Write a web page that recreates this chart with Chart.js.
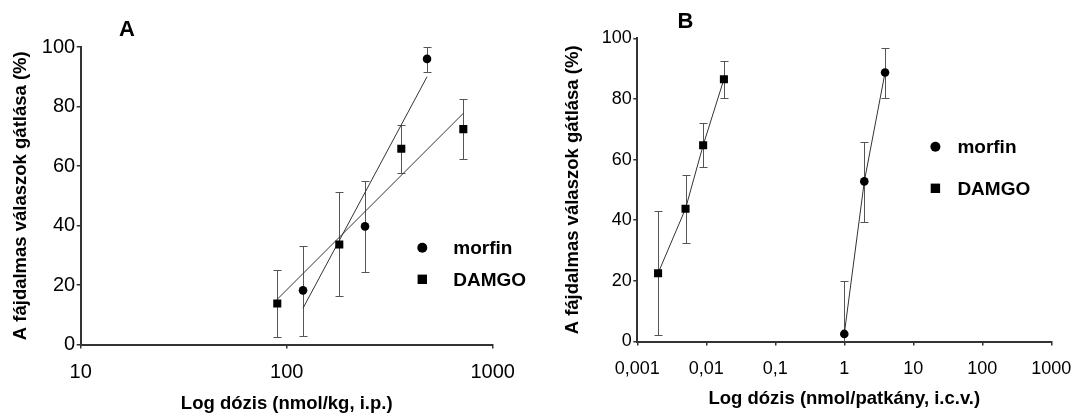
<!DOCTYPE html>
<html>
<head>
<meta charset="utf-8">
<script src="https://cdn.jsdelivr.net/npm/chart.js@4.4.1/dist/chart.umd.min.js"></script>
<style>
  html, body { margin: 0; padding: 0; background: #fff; }
  #wrap { position: relative; width: 1084px; height: 415px; }
  canvas { position: absolute; top: 0; }
</style>
</head>
<body>
<div id="wrap">
  <canvas id="chartA" width="542" height="415" style="left:0"></canvas>
  <canvas id="chartB" width="542" height="415" style="left:542px"></canvas>
</div>
<script>
// panel A (i.p.)
const aMorfinDose = [120, 240, 480];
const aMorfinResp = [18.2, 39.7, 96];
const aMorfinLow = [3, 24.3, 91.6];
const aMorfinHigh = [33, 54.8, 99.9];
const aDamgoDose = [90, 180, 360, 720];
const aDamgoResp = [13.8, 33.6, 65.8, 72.4];
const aDamgoLow = [2.6, 16.2, 57.6, 62.3];
const aDamgoHigh = [24.9, 51.1, 73.8, 82.4];
const aMorfinFitDose = [120, 480];
const aMorfinFitResp = [12.2, 90];
const aDamgoFitDose = [90, 720];
const aDamgoFitResp = [15.2, 77.7];
const aTickValues = [10, 100, 1000];
const aTickLabels = ['10', '100', '1000'];

// panel B (i.c.v.)
const bMorfinDose = [1, 1.95, 3.9];
const bMorfinResp = [2.5, 52.8, 88.7];
const bMorfinLow = [-14.8, 39.4, 80.2];
const bMorfinHigh = [19.8, 65.9, 96.7];
const bDamgoDose = [0.002, 0.005, 0.009, 0.018];
const bDamgoResp = [22.5, 43.8, 64.7, 86.5];
const bDamgoLow = [2.1, 32.6, 57.7, 80.2];
const bDamgoHigh = [42.9, 55, 72, 92.6];
const bTickValues = [0.001, 0.01, 0.1, 1, 10, 100, 1000];
const bTickLabels = ['0,001', '0,01', '0,1', '1', '10', '100', '1000'];

const legendLabels = ['morfin', 'DAMGO'];
const legendStyles = ['circle', 'rect'];
const yTitle = 'A fájdalmas válaszok gátlása (%)';

const FONT = '"Liberation Sans", Arial, Helvetica, sans-serif';

function pts(xs, ys) {
    return xs.map((x, i) => ({ x: x, y: ys[i] }));
}

const errorBars = {
    id: 'errorBars',
    beforeDatasetsDraw(chart) {
        const { ctx, chartArea, scales: { x, y } } = chart;
        ctx.save();
        ctx.beginPath();
        ctx.rect(chartArea.left, chartArea.top - 10, chartArea.width, chartArea.height + 10);
        ctx.clip();
        ctx.strokeStyle = '#555';
        ctx.lineWidth = 1;
        chart.data.datasets.forEach(ds => {
            if (!ds.errLow) return;
            ds.data.forEach((p, i) => {
                const px = Math.round(x.getPixelForValue(p.x)) + 0.5;
                const yl = Math.round(y.getPixelForValue(ds.errLow[i])) + 0.5;
                const yh = Math.round(y.getPixelForValue(ds.errHigh[i])) + 0.5;
                ctx.beginPath();
                ctx.moveTo(px, yl); ctx.lineTo(px, yh);
                ctx.moveTo(px - 4, yl); ctx.lineTo(px + 4, yl);
                ctx.moveTo(px - 4, yh); ctx.lineTo(px + 4, yh);
                ctx.stroke();
            });
        });
        ctx.restore();
    }
};

const panelDecor = {
    id: 'panelDecor',
    afterDraw(chart, args, opts) {
        const ctx = chart.ctx;
        ctx.save();
        ctx.fillStyle = '#000';
        ctx.textBaseline = 'middle';
        ctx.textAlign = 'center';
        ctx.font = 'bold 22px ' + FONT;
        ctx.fillText(opts.letter, opts.letterX, opts.letterY);

        ctx.textAlign = 'left';
        ctx.font = 'bold 19px ' + FONT;
        legendLabels.forEach((label, i) => {
            const cy = opts.legendY + i * opts.rowGap;
            const cx = opts.legendX;
            if (legendStyles[i] === 'circle') {
                ctx.beginPath();
                ctx.arc(cx, cy, 5, 0, Math.PI * 2);
                ctx.fill();
            } else {
                ctx.fillRect(cx - 4.7, cy - 4.7, 9.4, 9.4);
            }
            ctx.fillText(label, cx + opts.textGap, cy + 1);
        });
        ctx.restore();
    }
};

function panelConfig(p) {
    return {
        type: 'scatter',
        data: { datasets: p.datasets },
        options: {
            responsive: false,
            animation: false,
            layout: { padding: { top: p.top, right: p.right, left: 0, bottom: 0 } },
            plugins: {
                legend: { display: false },
                tooltip: { enabled: false },
                panelDecor: p.decor,
            },
            scales: {
                x: {
                    type: 'logarithmic',
                    min: p.tickValues[0],
                    max: p.tickValues[p.tickValues.length - 1],
                    afterBuildTicks: s => { s.ticks = p.tickValues.map(v => ({ value: v })); },
                    afterFit: s => { s.height = p.xHeight; },
                    ticks: {
                        autoSkip: false,
                        maxRotation: 0,
                        padding: p.xTickPad,
                        color: '#000',
                        font: { family: FONT, size: p.tickSize },
                        callback: v => p.tickLabels[p.tickValues.indexOf(v)],
                    },
                    grid: { drawOnChartArea: false, tickLength: 4, color: '#333', lineWidth: 1.5 },
                    border: { color: '#333', width: 2 },
                    title: {
                        display: true,
                        text: p.xTitle,
                        color: '#000',
                        font: { family: FONT, size: 18.5, weight: 'bold' },
                        padding: { top: 0, bottom: p.xTitlePad },
                    },
                },
                y: {
                    min: 0,
                    max: 100,
                    afterFit: s => { s.width = p.yWidth; },
                    ticks: {
                        stepSize: 20,
                        padding: 1.5,
                        color: '#000',
                        font: { family: FONT, size: p.tickSize },
                    },
                    grid: { drawOnChartArea: false, tickLength: 4, color: '#333', lineWidth: 1.5 },
                    border: { color: '#333', width: 2 },
                    title: {
                        display: true,
                        text: yTitle,
                        color: '#000',
                        font: { family: FONT, size: 18.5, weight: 'bold' },
                        padding: { top: p.yTitlePad, bottom: 0 },
                    },
                },
            },
        },
        plugins: [errorBars, panelDecor],
    };
}

const markerStyle = {
    pointBackgroundColor: '#000',
    pointBorderColor: '#000',
    pointBorderWidth: 0,
};

new Chart(document.getElementById('chartA'), panelConfig({
    datasets: [
        Object.assign({ label: 'morfin', data: pts(aMorfinDose, aMorfinResp), errLow: aMorfinLow, errHigh: aMorfinHigh,
            pointStyle: 'circle', pointRadius: 4.3, showLine: false }, markerStyle),
        Object.assign({ label: 'DAMGO', data: pts(aDamgoDose, aDamgoResp), errLow: aDamgoLow, errHigh: aDamgoHigh,
            pointStyle: 'rect', pointRadius: 5.7, showLine: false }, markerStyle),
        { label: 'morfin fit', data: pts(aMorfinFitDose, aMorfinFitResp), showLine: true, pointRadius: 0,
            borderColor: '#333', borderWidth: 1 },
        { label: 'DAMGO fit', data: pts(aDamgoFitDose, aDamgoFitResp), showLine: true, pointRadius: 0,
            borderColor: '#333', borderWidth: 1 },
    ],
    tickValues: aTickValues,
    tickLabels: aTickLabels,
    tickSize: 20,
    xTickPad: 12,
    xTitle: 'Log dózis (nmol/kg, i.p.)',
    xTitlePad: 0,
    yTitlePad: 10,
    top: 47,
    right: 49.3,
    xHeight: 70.5,
    yWidth: 80.7,
    decor: { letter: 'A', letterX: 127, letterY: 30, legendX: 422.3, legendY: 247.7, rowGap: 31.6, textGap: 31 },
}));

new Chart(document.getElementById('chartB'), panelConfig({
    datasets: [
        Object.assign({ label: 'morfin', data: pts(bMorfinDose, bMorfinResp), errLow: bMorfinLow, errHigh: bMorfinHigh,
            pointStyle: 'circle', pointRadius: 4.3, showLine: true, borderColor: '#333', borderWidth: 1 }, markerStyle),
        Object.assign({ label: 'DAMGO', data: pts(bDamgoDose, bDamgoResp), errLow: bDamgoLow, errHigh: bDamgoHigh,
            pointStyle: 'rect', pointRadius: 5.7, showLine: true, borderColor: '#333', borderWidth: 1 }, markerStyle),
    ],
    tickValues: bTickValues,
    tickLabels: bTickLabels,
    tickSize: 18,
    xTickPad: 12.7,
    xTitle: 'Log dózis (nmol/patkány, i.c.v.)',
    xTitlePad: 5,
    yTitlePad: 20,
    top: 38.3,
    right: 23.3,
    xHeight: 73.5,
    yWidth: 95.3,
    decor: { letter: 'B', letterX: 143.5, letterY: 22, legendX: 393.4, legendY: 146.7, rowGap: 41.6, textGap: 22 },
}));
</script>
</body>
</html>
